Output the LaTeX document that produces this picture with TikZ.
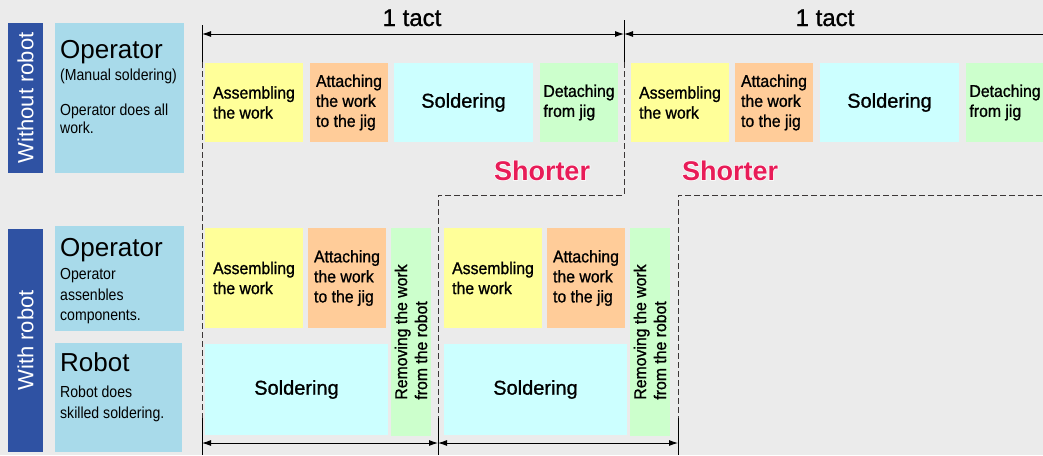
\documentclass[tikz,border=0pt]{standalone}
\usepackage{fontspec}
\setmainfont{Liberation Sans}
\newfontfamily\boxfont[FakeStretch=0.93,FakeBold=1]{Liberation Sans}
\newfontfamily\medfont[FakeBold=1]{Liberation Sans}
\newfontfamily\descfont[FakeStretch=0.88]{Liberation Sans}
\newfontfamily\halofont[FakeBold=5]{Liberation Sans Bold}
\usetikzlibrary{arrows.meta}
\definecolor{bggray}{RGB}{235,235,235}
\definecolor{barblue}{RGB}{47,82,163}
\definecolor{lblblue}{RGB}{168,218,234}
\definecolor{taskyel}{RGB}{255,255,153}
\definecolor{taskorg}{RGB}{255,204,153}
\definecolor{taskcyan}{RGB}{204,255,255}
\definecolor{taskgrn}{RGB}{204,255,204}
\definecolor{shortred}{RGB}{232,28,88}
\definecolor{guidegray}{RGB}{60,55,55}

\begin{document}
\begin{tikzpicture}[x=1pt,y=-1pt,
    task/.style={inner sep=0,align=left,font=\boxfont\fontsize{17}{20}\selectfont},
    solder/.style={inner sep=0,fill=taskcyan,font=\medfont\fontsize{20}{22}\selectfont},
    bar/.style={inner sep=0,fill=barblue,text=white,rotate=90,font=\fontsize{22}{24}\selectfont},
    lbl/.style={inner sep=0,fill=lblblue},
    ttl/.style={inner sep=0,anchor=base west,font=\fontsize{26}{28}\selectfont},
    desc/.style={inner sep=0,anchor=north west,align=left,font=\descfont\fontsize{16}{#1}\selectfont},
    tact/.style={inner sep=0,anchor=base,font=\medfont\fontsize{24}{26}\selectfont},
    shorter/.style={inner sep=0,anchor=base,font=\bfseries\fontsize{27}{29}\selectfont},
    halo/.style={inner sep=0,anchor=base,text=white,font=\halofont\fontsize{27}{29}\selectfont},
    dim/.style={{Latex[length=9pt,width=6pt]}-{Latex[length=9pt,width=6pt]},line width=0.9pt},
    tick/.style={line width=0.9pt},
    guide/.style={guidegray,line width=0.9pt,dash pattern=on 6pt off 3pt}]
    \clip (0,0) rectangle (1043,455);
    \fill[bggray] (0,0) rectangle (1043,455);

    \node[bar,minimum width=150,minimum height=35] (woBar) at (25.5,98) {Without robot};
    \node[lbl,minimum width=129,minimum height=150] (woOp) at (119.5,98) {};
    \node[ttl] (woOpT) at (60,58) {Operator};
    \node[desc=18,anchor=base west] (woOpS) at (60,80) {(Manual soldering)};
    \node[desc=18] (woOpD) at (60,103.5) {Operator does all\\work.};

    \node[bar,minimum width=223,minimum height=35] (wBar) at (25.5,340.5) {With robot};
    \node[lbl,minimum width=129,minimum height=105] (wOp) at (119.5,278.5) {};
    \node[ttl] (wOpT) at (60,256) {Operator};
    \node[desc=20.5] (wOpD) at (60,268.5) {Operator\\assenbles\\components.};
    \node[lbl,minimum width=127,minimum height=109] (wRob) at (118.5,397.5) {};
    \node[ttl] (wRobT) at (60,371) {Robot};
    \node[desc=21] (wRobD) at (60,385.5) {Robot does\\skilled soldering.};

    \node[task,fill=taskyel,minimum width=98,minimum height=79] (asmA) at (254,102.5) {Assembling\\the work};
    \node[task,fill=taskorg,minimum width=78,minimum height=79] (attA) at (349,102.5) {Attaching\\the work\\to the jig};
    \node[solder,minimum width=139,minimum height=79] (solA) at (463.5,102.5) {Soldering};
    \node[task,fill=taskgrn,minimum width=78,minimum height=79] (detA) at (579,102.5) {Detaching\\from jig};
    \node[task,fill=taskyel,minimum width=98,minimum height=79] (asmB) at (680,102.5) {Assembling\\the work};
    \node[task,fill=taskorg,minimum width=78,minimum height=79] (attB) at (774,102.5) {Attaching\\the work\\to the jig};
    \node[solder,minimum width=139,minimum height=79] (solB) at (889.5,102.5) {Soldering};
    \node[task,fill=taskgrn,minimum width=78,minimum height=79] (detB) at (1005,102.5) {Detaching\\from jig};

    \node[task,fill=taskyel,minimum width=98,minimum height=100] (asmC) at (254,278) {Assembling\\the work};
    \node[task,fill=taskorg,minimum width=78,minimum height=100] (attC) at (347,278) {Attaching\\the work\\to the jig};
    \node[task,fill=taskgrn,rotate=90,minimum width=208,minimum height=40] (remC) at (411,332) {Removing the work\\from the robot};
    \node[solder,minimum width=183,minimum height=91] (solC) at (296.5,389.5) {Soldering};
    \node[task,fill=taskyel,minimum width=98,minimum height=100] (asmD) at (493,278) {Assembling\\the work};
    \node[task,fill=taskorg,minimum width=78,minimum height=100] (attD) at (586,278) {Attaching\\the work\\to the jig};
    \node[task,fill=taskgrn,rotate=90,minimum width=208,minimum height=40] (remD) at (650,332) {Removing the work\\from the robot};
    \node[solder,minimum width=183,minimum height=91] (solD) at (535.5,389.5) {Soldering};

    \foreach \x/\a/\b in {202/25/62,624/20/62,202/418/455,438/418/455,678/418/455}
        \draw[tick] (\x,\a) -- (\x,\b);
    \draw[guide] (202,62) -- (202,418);
    \draw[guide] (624,62) -- (624,195) -- (438,195) -- (438,418);
    \draw[guide] (1060,195) -- (678,195) -- (678,418);

    \coordinate (tA) at (202,34);
    \coordinate (tB) at (624,34);
    \coordinate (tC) at (1060,34);
    \coordinate (bA) at (202,443);
    \coordinate (bB) at (438,443);
    \coordinate (bC) at (678,443);
    \draw[dim] (tA) -- (tB);
    \draw[dim] (tB) -- (tC);
    \draw[dim] (bA) -- (bB);
    \draw[dim] (bB) -- (bC);
    \node[tact] (tactA) at (412,26) {1 tact};
    \node[tact] (tactB) at (825,26) {1 tact};

    \node[halo] (haloA) at (542,180) {Shorter};
    \node[halo] (haloB) at (730,180) {Shorter};
    \node[shorter,text=shortred] (shortA) at (542,180) {Shorter};
    \node[shorter,text=shortred] (shortB) at (730,180) {Shorter};
\end{tikzpicture}
\end{document}
